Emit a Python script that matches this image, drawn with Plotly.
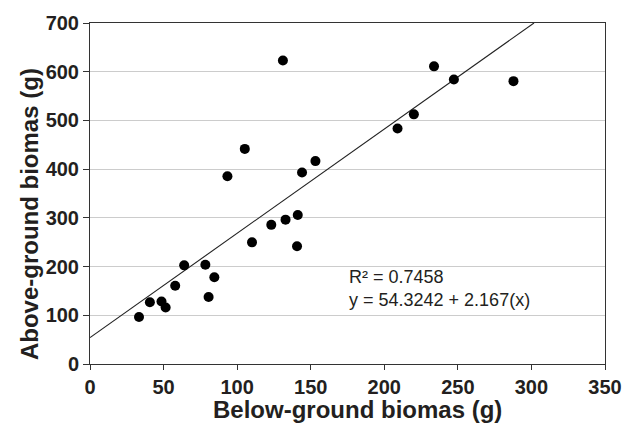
import plotly.graph_objects as go

# Data
below_ground = [131.1, 105.2, 93.4, 144.1, 153.2, 33.3, 40.7, 48.6, 51.4, 57.9,
                64.0, 78.4, 84.5, 80.6, 110.1, 123.2, 132.9, 141.2, 140.7,
                233.8, 247.3, 287.8, 220.1, 209.0]
above_ground = [623, 441.6, 385.5, 393, 416.5, 96.4, 126.8, 128.2, 116, 160.6,
                202.5, 203.8, 178.2, 137.7, 249.7, 285.6, 296.3, 305.8, 241.6,
                611, 584, 580.6, 512.5, 483.3]

# Equation printed on the chart
label_intercept = "54.3242"
label_slope = "2.167"
r_squared = "0.7458"

# Trend line as drawn in the picture
line_intercept = 54.3
line_slope = 2.14

x_ticks = [0, 50, 100, 150, 200, 250, 300, 350]
y_ticks = [0, 100, 200, 300, 400, 500, 600, 700]

x_max = 350
y_max = 700
x_end = min(x_max, (y_max - line_intercept) / line_slope)
line_x = [0, x_end]
line_y = [line_intercept + line_slope * v for v in line_x]

FONT = "Liberation Sans, Arial, sans-serif"
INK = "#231f20"

fig = go.Figure()
fig.add_trace(go.Scatter(x=line_x, y=line_y, mode="lines",
                         line=dict(color="#222222", width=1.1),
                         showlegend=False, hoverinfo="skip"))
fig.add_trace(go.Scatter(x=below_ground, y=above_ground, mode="markers",
                         marker=dict(color="black", size=10),
                         showlegend=False))

fig.update_layout(
    width=634, height=430,
    margin=dict(l=90, r=26, t=19, b=66),
    paper_bgcolor="white", plot_bgcolor="white",
    font=dict(family=FONT, color=INK),
    xaxis=dict(range=[0, x_max], tickvals=x_ticks, showgrid=False, zeroline=False,
               showline=True, mirror=True, linecolor="#333333", linewidth=1,
               ticks="outside", ticklen=5, tickcolor="#333333",
               tickfont=dict(size=20, family=FONT, color=INK, weight="bold")),
    yaxis=dict(range=[0, y_max], tickvals=y_ticks, showgrid=True,
               gridcolor="#cccccc", gridwidth=1, zeroline=False,
               showline=True, mirror=True, linecolor="#333333", linewidth=1,
               ticks="outside", ticklen=6, tickcolor="#333333",
               tickfont=dict(size=20, family=FONT, color=INK, weight="bold")),
)

px_l, px_r, px_t, px_b = 90, 608, 19, 364


def paper_x(px):
    return (px - px_l) / (px_r - px_l)


def paper_y(py):
    return (px_b - py) / (px_b - px_t)


fig.add_annotation(text="Below-ground biomas (g)", xref="paper", yref="paper",
                   x=paper_x(359), y=paper_y(410), xanchor="center", yanchor="middle",
                   showarrow=False, font=dict(size=24, family=FONT, color=INK, weight="bold"))
fig.add_annotation(text="Above-ground biomas (g)", xref="paper", yref="paper",
                   x=paper_x(29), y=paper_y(212), xanchor="center", yanchor="middle",
                   textangle=-90, showarrow=False,
                   font=dict(size=24, family=FONT, color=INK, weight="bold"))
fig.add_annotation(text=f"R\u00b2 = {r_squared}", xref="paper", yref="paper",
                   x=paper_x(348), y=paper_y(276), xanchor="left", yanchor="middle",
                   showarrow=False, font=dict(size=18, family=FONT, color=INK))
fig.add_annotation(text=f"y = {label_intercept} + {label_slope}(x)", xref="paper", yref="paper",
                   x=paper_x(348), y=paper_y(299), xanchor="left", yanchor="middle",
                   showarrow=False, font=dict(size=18, family=FONT, color=INK))

fig.write_html("out.html")
